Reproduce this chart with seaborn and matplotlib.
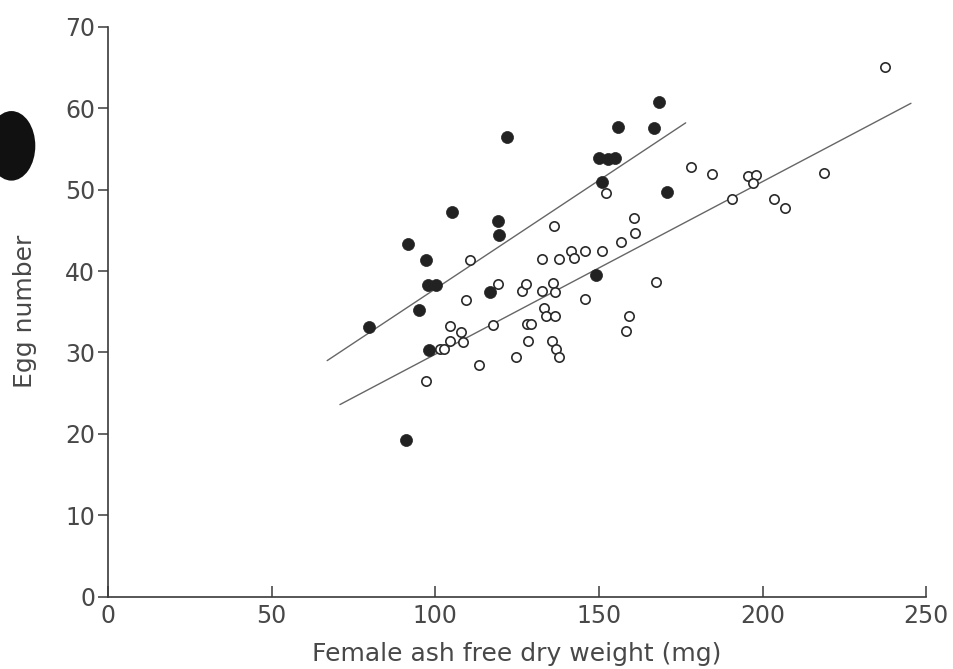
import pandas as pd
import matplotlib
matplotlib.use("Agg")
import matplotlib.pyplot as plt
from matplotlib.patches import Ellipse
import seaborn as sns

# Filled circles
filled_x = [79.8, 91.8, 97.2, 97.9, 100.2, 95.0, 98.0, 91.2, 105.1, 116.7, 119.3,
            119.5, 121.9, 149.0, 150.0, 152.9, 155.0, 150.9, 155.9, 166.8, 168.2, 170.7]
filled_y = [33.1, 43.3, 41.3, 38.3, 38.3, 35.2, 30.3, 19.3, 47.3, 37.4, 46.2,
            44.4, 56.5, 39.5, 53.9, 53.8, 53.9, 50.9, 57.7, 57.6, 60.7, 49.7]

# Open circles
open_x = [97.3, 101.5, 102.7, 104.4, 104.6, 108.0, 108.6, 109.3, 110.6, 113.5,
          117.8, 119.1, 124.6, 126.4, 127.7, 128.0, 129.2, 128.2, 132.7, 132.5,
          133.3, 133.8, 136.7, 135.6, 136.9, 137.9, 136.1, 136.6, 136.4, 137.8,
          141.5, 142.3, 145.9, 145.6, 150.9, 152.1, 156.6, 158.2, 159.3, 160.6,
          160.9, 167.5, 178.0, 184.6, 190.5, 195.5, 198.1, 197.2, 203.5, 206.7,
          218.6, 237.3]
open_y = [26.5, 30.4, 30.4, 33.3, 31.4, 32.5, 31.3, 36.4, 41.3, 28.4,
          33.4, 38.4, 29.5, 37.5, 38.4, 33.5, 33.5, 31.4, 41.5, 37.5,
          35.5, 34.5, 34.5, 31.4, 30.4, 29.4, 38.5, 37.4, 45.5, 41.5,
          42.4, 41.6, 42.5, 36.6, 42.5, 49.6, 43.6, 32.6, 34.5, 46.5,
          44.7, 38.6, 52.8, 51.9, 48.8, 51.7, 51.8, 50.8, 48.8, 47.7,
          52.0, 65.0]

# Regression lines (end points)
upper_x = [67.0, 176.5]
upper_y = [29.0, 58.2]
lower_x = [70.9, 245.3]
lower_y = [23.6, 60.6]

df_filled = pd.DataFrame({"x": filled_x, "y": filled_y})
df_open = pd.DataFrame({"x": open_x, "y": open_y})

sns.set_style("ticks")
plt.rcParams['font.family'] = ['DejaVu Sans']

fig = plt.figure(figsize=(9.54, 6.69), dpi=100)
ax = fig.add_axes([0.113, 0.108, 0.858, 0.852])

ink = "#3a3a3a"
text_ink = "#484848"
sns.lineplot(x=upper_x, y=upper_y, ax=ax, color="#666666", linewidth=1.0)
sns.lineplot(x=lower_x, y=lower_y, ax=ax, color="#666666", linewidth=1.0)
sns.scatterplot(data=df_open, x="x", y="y", ax=ax, s=45, facecolor="white",
                edgecolor="#2a2a2a", linewidth=1.2, zorder=3)
sns.scatterplot(data=df_filled, x="x", y="y", ax=ax, s=75, color="#222222",
                edgecolor="#222222", linewidth=0.5, zorder=4)

ax.set_xlim(0, 250)
ax.set_ylim(0, 70)
ax.set_xticks([0, 50, 100, 150, 200, 250])
ax.set_yticks([0, 10, 20, 30, 40, 50, 60, 70])
ax.set_xlabel("Female ash free dry weight (mg)", fontsize=18, color=text_ink, labelpad=10)
ax.set_ylabel("Egg number", fontsize=18, color=text_ink, labelpad=20)

sns.despine(ax=ax)
for s in ["left", "bottom"]:
    ax.spines[s].set_color(ink)
    ax.spines[s].set_linewidth(1.2)
ax.tick_params(axis="x", direction="in", length=8, width=1.1, colors=ink,
               labelcolor=text_ink, labelsize=17, pad=5)
ax.tick_params(axis="y", direction="out", length=7, width=1.1, colors=ink,
               labelcolor=text_ink, labelsize=17, pad=2)

# dark blot at the left margin of the scan
fig.patches.append(Ellipse((0.012, 0.782), 0.05, 0.104, transform=fig.transFigure,
                           facecolor="#111111", edgecolor="none"))

fig.savefig("out.png", dpi=100, facecolor="white")
